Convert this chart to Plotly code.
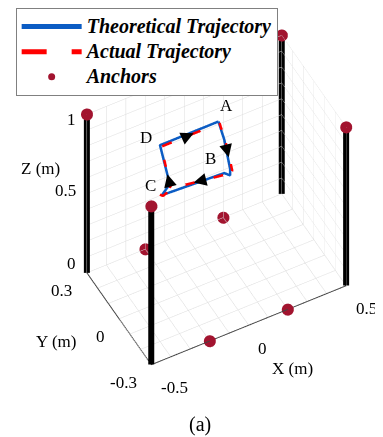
import plotly.graph_objects as go

# ---- data ----
# theoretical trajectory A-B-C-D-A (m)
theo_x = [0.01, 0.04, 0.07, 0.07, 0.04, -0.28, -0.24, -0.29, 0.01]
theo_y = [0.0, 0.0, 0.0, 0.0, 0.0, 0.0, 0.0, 0.0, 0.0]
theo_z = [0.99, 0.86, 0.66, 0.62, 0.65, 0.67, 0.72, 0.99, 0.99]
# actual trajectory (with small deviations)
act_x = [0.01, 0.04, 0.055, 0.075, 0.07, 0.04, -0.23, -0.28, -0.295, -0.27, -0.24, -0.265, -0.29, -0.10, 0.01]
act_y = [-0.01] * 15
act_z = [0.99, 0.86, 0.78, 0.66, 0.615, 0.65, 0.70, 0.675, 0.69, 0.655, 0.72, 0.85, 0.99, 0.99, 0.99]
# anchors
anc_x = [-0.5, -0.5, 0.5, 0.5, -0.2, 0.2, -0.2, 0.2]
anc_y = [0.3, -0.3, 0.3, -0.3, 0.3, 0.3, -0.3, -0.3]
anc_z = [1.0, 1.0, 1.0, 1.0, 0.0, 0.0, 0.0, 0.0]
# anchor poles (corners)
pole_x = [-0.5, -0.5, 0.5, 0.5]
pole_y = [0.3, -0.3, 0.3, -0.3]
pole_top = 1.0
# corner labels (anchored at trajectory corners)
lab_text = ["A", "B", "C", "D"]
lab_x = [0.01, 0.04, -0.28, -0.29]
lab_z = [0.99, 0.65, 0.67, 0.99]
# direction arrows: head point on trajectory
arr_x = [-0.12, 0.06, -0.12, -0.255]
arr_z = [0.99, 0.75, 0.68, 0.80]

x_ticks = [round(-0.5 + 0.1 * i, 1) for i in range(11)]
y_ticks = [round(-0.3 + 0.1 * i, 1) for i in range(7)]
z_ticks = [round(0.1 * i, 1) for i in range(11)]
x_lab_vals = [-0.5, 0.0, 0.5]
x_lab_text = ["-0.5", "0", "0.5"]
y_lab_vals = [0.3, 0.0, -0.3]
y_lab_text = ["0.3", "0", "-0.3"]
z_lab_vals = [1.0, 0.5, 0.0]
z_lab_text = ["1", "0.5", "0"]

FONT = "Liberation Serif"
TXT = dict(family=FONT, size=17, color="black")


def leg(name):
    return '<span style="font-size:20px"><b><i>' + name + '</i></b></span>'


fig = go.Figure()

for i in range(len(pole_x)):
    fig.add_trace(go.Scatter3d(
        x=[pole_x[i], pole_x[i]], y=[pole_y[i], pole_y[i]], z=[0, pole_top],
        mode="lines", line=dict(color="black", width=12),
        showlegend=False, hoverinfo="skip"))

fig.add_trace(go.Scatter3d(
    x=theo_x, y=theo_y, z=theo_z, mode="lines",
    line=dict(color="#0b5cc4", width=5),
    name=leg("Theoretical Trajectory")))
fig.add_trace(go.Scatter3d(
    x=act_x, y=act_y, z=act_z, mode="lines",
    line=dict(color="#ff0000", width=5, dash="longdash"),
    name=leg("Actual Trajectory")))
fig.add_trace(go.Scatter3d(
    x=anc_x, y=anc_y, z=anc_z, mode="markers",
    marker=dict(color="#A2142F", size=7, line=dict(width=0)),
    name=leg("Anchors")))

ann = []
# corner labels
lab_shift = {"A": (9, 16), "B": (-13, 15), "C": (-11, 10), "D": (-13, 8)}
for t, lx, lz in zip(lab_text, lab_x, lab_z):
    ann.append(dict(x=lx, y=0, z=lz, text=t, showarrow=False, font=TXT,
                    xshift=lab_shift[t][0], yshift=lab_shift[t][1]))
# arrows (tail offsets follow path direction)
arr_tail = [(-11, 5), (-3, -12), (12, -3), (3, 12)]
for (axp, ayp), px, pz in zip(arr_tail, arr_x, arr_z):
    ann.append(dict(x=px, y=-0.01, z=pz, text="", showarrow=True,
                    arrowhead=2, arrowsize=1.6, arrowwidth=1.6,
                    arrowcolor="black", ax=axp, ay=ayp))
# tick labels
for v, t in zip(x_lab_vals, x_lab_text):
    ann.append(dict(x=v, y=-0.3, z=0, text=t, showarrow=False, font=TXT,
                    xanchor="left", yanchor="middle", xshift=8, yshift=-23))
for v, t in zip(y_lab_vals, y_lab_text):
    ann.append(dict(x=-0.5, y=v, z=0, text=t, showarrow=False, font=TXT,
                    xanchor="right", yanchor="middle", xshift=-12, yshift=-18))
z_dy = {"1": -5, "0.5": 3, "0": 9}
for v, t in zip(z_lab_vals, z_lab_text):
    ann.append(dict(x=-0.5, y=0.3, z=v, text=t, showarrow=False, font=TXT,
                    xanchor="right", yanchor="middle", xshift=-8, yshift=z_dy[t]))
# axis titles
ann.append(dict(x=0.0, y=-0.3, z=0, text="X (m)", showarrow=False, font=TXT,
                xshift=44, yshift=-43))
ann.append(dict(x=-0.5, y=0.0, z=0, text="Y (m)", showarrow=False, font=TXT,
                xshift=-63, yshift=-23))
ann.append(dict(x=-0.5, y=0.3, z=0.5, text="Z (m)", showarrow=False, font=TXT,
                xshift=-46, yshift=25))


def axis(ticks, rng):
    return dict(
        title=dict(text=""), range=rng, tickvals=ticks,
        showticklabels=False, ticks="",
        showgrid=True, gridcolor="#dcdcdc", gridwidth=1,
        showline=True, linecolor="#444444", linewidth=2,
        zeroline=False, showbackground=False, showspikes=False,
    )


fig.update_layout(
    width=383, height=437,
    margin=dict(l=0, r=0, t=0, b=0),
    paper_bgcolor="white",
    font=dict(family=FONT),
    scene=dict(
        domain=dict(x=[0.111, 0.975], y=[0.121, 1.0]),
        xaxis=axis(x_ticks, [-0.5, 0.5]),
        yaxis=axis(y_ticks, [-0.3, 0.3]),
        zaxis=axis(z_ticks, [0, 1]),
        aspectmode="manual",
        aspectratio=dict(x=1.15, y=0.713, z=1.272),
        camera=dict(
            eye=dict(x=-0.540, y=-1.013, z=1.345),
            up=dict(x=0, y=0, z=1),
            center=dict(x=0, y=0, z=0),
            projection=dict(type="orthographic"),
        ),
        annotations=ann,
    ),
    legend=dict(
        x=0.02, y=1.0, xanchor="left", yanchor="top",
        bordercolor="#808080", borderwidth=1, bgcolor="white",
        font=dict(family=FONT, size=17, color="black"),
        itemwidth=60, tracegroupgap=0,
    ),
    annotations=[dict(x=0.5, y=0.048, xref="paper", yref="paper",
                      text="(a)", showarrow=False, yanchor="middle",
                      font=dict(family=FONT, size=20, color="black"))],
)

fig.write_html("out.html")
